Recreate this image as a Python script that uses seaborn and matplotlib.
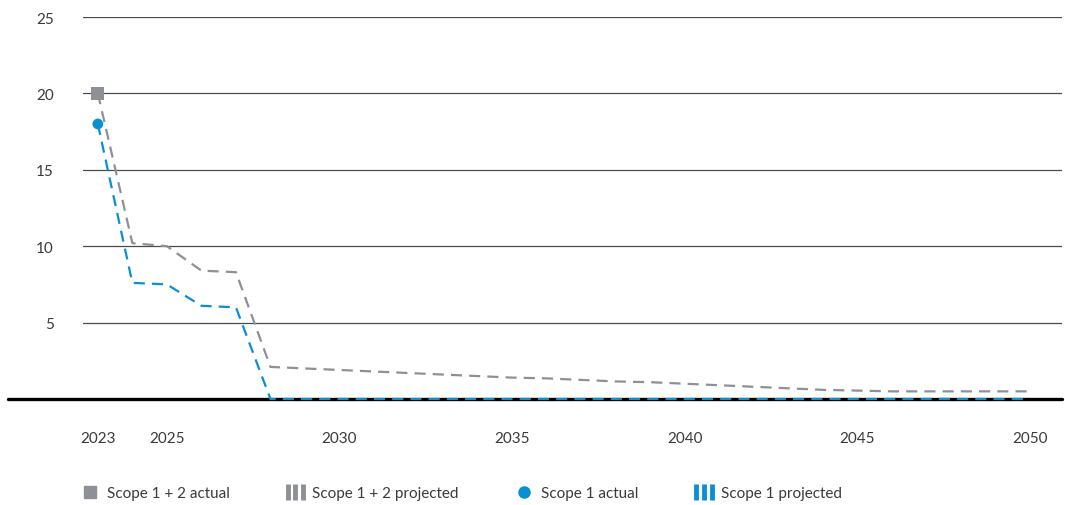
import numpy as np
import pandas as pd
import matplotlib
matplotlib.use("Agg")
import matplotlib.pyplot as plt
import seaborn as sns
from matplotlib.lines import Line2D
from matplotlib.legend_handler import HandlerLine2D

# Data
years = list(range(2023, 2051))
scope12_projected = [20.0, 10.2, 10.0, 8.4, 8.3, 2.1, 2.0, 1.9, 1.8, 1.7, 1.6, 1.5, 1.4, 1.35,
                     1.25, 1.15, 1.1, 1.0, 0.9, 0.8, 0.7, 0.6, 0.55, 0.5, 0.5, 0.5, 0.5, 0.5]
scope1_projected = [18.0, 7.6, 7.5, 6.1, 6.0] + [0.0] * 23
actual_year = [2023]
scope12_actual = [20.0]
scope1_actual = [18.0]
xticks = [2023, 2025, 2030, 2035, 2040, 2045, 2050]
yticks = [5, 10, 15, 20, 25]

GRAY = "#8d9196"
BLUE = "#0a8fd3"
TXT = "#3a3a3a"

sns.set_style("white")
plt.rcParams["font.family"] = ["Lato", "DejaVu Sans"]

fig = plt.figure(figsize=(10.65, 5.06), dpi=100)
ax = fig.add_axes([83 / 1065, 1 - 400 / 506, (1062 - 83) / 1065, (400 - 18) / 506])

df = pd.DataFrame({"year": years, "s12": scope12_projected, "s1": scope1_projected})

# gridlines
for y in yticks:
    ax.axhline(y, color="#4a4a4a", lw=0.9, zorder=1)

sns.lineplot(data=df, x="year", y="s12", ax=ax, color=GRAY, lw=1.6, zorder=3)
sns.lineplot(data=df, x="year", y="s1", ax=ax, color=BLUE, lw=1.6, zorder=8)
for ln in ax.get_lines()[-2:]:
    ln.set_linestyle((0, (5, 3.2)))
    ln.set_clip_on(False)

sns.scatterplot(x=actual_year, y=scope12_actual, ax=ax, marker="s", s=90, color=GRAY,
                edgecolor="none", zorder=9)
sns.scatterplot(x=actual_year, y=scope1_actual, ax=ax, marker="o", s=60, color=BLUE,
                edgecolor="none", zorder=9)

ax.axhline(0, color="black", lw=2.4, zorder=6, xmin=-0.077, clip_on=False)

ax.set_xlim(2022.57, 2050.93)
ax.set_ylim(0, 25)
ax.set_xticks(xticks)
ax.set_yticks(yticks)
ax.tick_params(axis="both", length=0, labelsize=11, labelcolor=TXT)
ax.tick_params(axis="x", pad=23)
ax.tick_params(axis="y", pad=21)
ax.set_xlabel("")
ax.set_ylabel("")
for s in ax.spines.values():
    s.set_visible(False)

handles = [
    Line2D([], [], marker="s", ls="none", color=GRAY, markersize=8),
    Line2D([], [], marker="|", ls="none", color=GRAY, markersize=12, markeredgewidth=3.5),
    Line2D([], [], marker="o", ls="none", color=BLUE, markersize=8),
    Line2D([], [], marker="|", ls="none", color=BLUE, markersize=12, markeredgewidth=3.5),
]
labels = ["Scope 1 + 2 actual", "Scope 1 + 2 projected", "Scope 1 actual", "Scope 1 projected"]
hmap = {handles[1]: HandlerLine2D(numpoints=3), handles[3]: HandlerLine2D(numpoints=3)}
fig.legend(handles, labels, handler_map=hmap, loc="center left", bbox_to_anchor=(0.06, 1 - 494 / 506),
           ncol=4, frameon=False, fontsize=11, labelcolor=TXT, handlelength=1.6,
           handletextpad=0.3, columnspacing=3.5, numpoints=1)

fig.savefig("out.png", dpi=100)
